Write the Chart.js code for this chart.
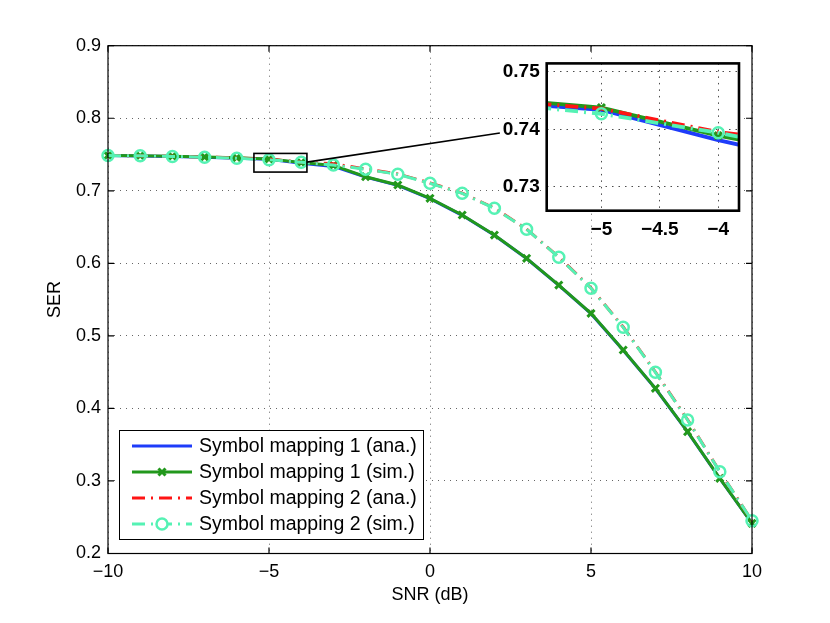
<!DOCTYPE html>
<html>
<head>
<meta charset="utf-8">
<script src="https://cdn.jsdelivr.net/npm/chart.js@4.4.0/dist/chart.umd.min.js"></script>
<style>
  html, body { margin: 0; padding: 0; background: #fff; }
  #wrap { position: relative; width: 830px; height: 623px; }
  #main { position: absolute; left: 0; top: 0; }
  #zoom { position: absolute; left: 490px; top: 45px; }
</style>
</head>
<body>
<div id="wrap">
  <canvas id="main" width="830" height="623"></canvas>
  <canvas id="zoom" width="260" height="205"></canvas>
</div>
<script>
// SNR points (dB)
const snr = [-10, -9, -8, -7, -6, -5, -4, -3, -2, -1, 0, 1, 2, 3, 4, 5, 6, 7, 8, 9, 10];

// SER values
const anaMap1 = [0.7486, 0.7481, 0.7473, 0.7463, 0.7449, 0.7434, 0.7381, 0.7336, 0.7190, 0.7075, 0.6892,
                 0.6662, 0.6386, 0.6066, 0.5697, 0.5306, 0.4802, 0.4274, 0.3676, 0.3034, 0.2414];
const simMap1 = [0.7487, 0.7483, 0.7476, 0.7467, 0.7455, 0.7438, 0.7389, 0.7350, 0.7194, 0.7080, 0.6896,
                 0.6666, 0.6390, 0.6069, 0.5700, 0.5310, 0.4805, 0.4277, 0.3679, 0.3036, 0.2416];
const anaMap2 = [0.7487, 0.7483, 0.7475, 0.7466, 0.7452, 0.7436, 0.7395, 0.7372, 0.7300, 0.7232, 0.7108,
                 0.6968, 0.6762, 0.6472, 0.6086, 0.5660, 0.5122, 0.4502, 0.3844, 0.3130, 0.2450];
const simMap2 = [0.7486, 0.7482, 0.7474, 0.7463, 0.7448, 0.7427, 0.7394, 0.7355, 0.7296, 0.7227, 0.7103,
                 0.6965, 0.6758, 0.6469, 0.6083, 0.5656, 0.5118, 0.4498, 0.3840, 0.3127, 0.2452];

const seriesNames = ['Symbol mapping 1 (ana.)', 'Symbol mapping 1 (sim.)',
                     'Symbol mapping 2 (ana.)', 'Symbol mapping 2 (sim.)'];

// tick labels
const xTicks = [-10, -5, 0, 5, 10];
const yTicks = [0.2, 0.3, 0.4, 0.5, 0.6, 0.7, 0.8, 0.9];
const zoomXTicks = [-5, -4.5, -4];
const zoomYTicks = [0.73, 0.74, 0.75];

// zoomed window
const zoomXRange = [-5.468, -3.822];
const zoomYRange = [0.7258, 0.7515];

Chart.defaults.font.family = "'Liberation Sans', Arial, Helvetica, sans-serif";
Chart.defaults.color = '#000';

const minus = v => String(v).replace('-', '\u2212');
const pts = arr => arr.map((y, i) => ({ x: snr[i], y: y }));

const dashDot = [13, 6, 2, 6];

function makeDatasets(lw, clip) {
    return [
        { label: seriesNames[0], data: pts(anaMap1), borderColor: '#1e3cfa', borderWidth: lw,
          pointRadius: 0, order: 4, clip: clip },
        { label: seriesNames[1], data: pts(simMap1), borderColor: '#22981c', borderWidth: lw,
          pointStyle: 'crossRot', pointRadius: 5, pointBorderWidth: 3, pointBorderColor: '#22981c',
          pointBackgroundColor: '#22981c', order: 3, clip: clip },
        { label: seriesNames[2], data: pts(anaMap2), borderColor: '#ff1414', borderWidth: lw,
          borderDash: dashDot, pointRadius: 0, order: 2, clip: clip },
        { label: seriesNames[3], data: pts(simMap2), borderColor: '#55f2b4', borderWidth: lw,
          borderDash: dashDot, pointStyle: 'circle', pointRadius: 5.5, pointBorderWidth: 2.5,
          pointBorderColor: '#55f2b4', pointBackgroundColor: 'rgba(0,0,0,0)', order: 1, clip: clip }
    ];
}

// box, inner ticks, zoom marker and legend for the main axes
const mainDeco = {
    id: 'mainDeco',
    afterDraw(chart) {
        const ctx = chart.ctx;
        const a = chart.chartArea;
        const xs = chart.scales.x, ys = chart.scales.y;
        ctx.save();
        ctx.strokeStyle = '#000';
        ctx.lineWidth = 1.2;
        ctx.setLineDash([]);
        ctx.strokeRect(a.left, a.top, a.right - a.left, a.bottom - a.top);
        ctx.beginPath();
        xTicks.forEach(v => {
            const p = xs.getPixelForValue(v);
            ctx.moveTo(p, a.bottom); ctx.lineTo(p, a.bottom - 6);
            ctx.moveTo(p, a.top); ctx.lineTo(p, a.top + 6);
        });
        yTicks.forEach(v => {
            const p = ys.getPixelForValue(v);
            ctx.moveTo(a.left, p); ctx.lineTo(a.left + 6, p);
            ctx.moveTo(a.right, p); ctx.lineTo(a.right - 6, p);
        });
        ctx.stroke();

        // zoom rectangle + connector
        const rx0 = xs.getPixelForValue(zoomXRange[0]), rx1 = xs.getPixelForValue(zoomXRange[1]);
        const ry0 = ys.getPixelForValue(zoomYRange[1]), ry1 = ys.getPixelForValue(zoomYRange[0]);
        ctx.lineWidth = 1.6;
        ctx.strokeRect(rx0, ry0, rx1 - rx0, ry1 - ry0);
        ctx.beginPath();
        ctx.moveTo(rx1, ys.getPixelForValue(0.7395));
        ctx.lineTo(xs.getPixelForValue(2.17), ys.getPixelForValue(0.7797));
        ctx.stroke();

        // legend
        const lx = 119.5, ly = 430.5, lw = 304, lh = 109;
        ctx.fillStyle = '#fff';
        ctx.fillRect(lx, ly, lw, lh);
        ctx.lineWidth = 1;
        ctx.strokeRect(lx, ly, lw, lh);
        ctx.font = "19.5px 'Liberation Sans', Arial, sans-serif";
        ctx.textBaseline = 'middle';
        ctx.textAlign = 'left';
        chart.data.datasets.forEach((ds, i) => {
            const y = 446 + i * 26;
            ctx.strokeStyle = ds.borderColor;
            ctx.lineWidth = 3;
            ctx.setLineDash(ds.borderDash || []);
            ctx.beginPath();
            ctx.moveTo(132, y); ctx.lineTo(192, y);
            ctx.stroke();
            ctx.setLineDash([]);
            if (ds.pointRadius > 0) {
                ctx.fillStyle = '#fff';
                ctx.strokeStyle = ds.pointBorderColor;
                ctx.lineWidth = ds.pointBorderWidth;
                if (ds.pointStyle === 'circle') {
                    ctx.beginPath(); ctx.arc(162, y, ds.pointRadius, 0, Math.PI * 2);
                    ctx.fill(); ctx.stroke();
                } else {
                    Chart.helpers.drawPoint(ctx, { pointStyle: ds.pointStyle, radius: ds.pointRadius,
                        borderWidth: ds.pointBorderWidth, rotation: 0 }, 162, y);
                }
            }
            ctx.fillStyle = '#000';
            ctx.fillText(ds.label, 199, y + 1);
        });
        ctx.restore();
    }
};

new Chart(document.getElementById('main'), {
    type: 'line',
    data: { datasets: makeDatasets(3, false) },
    options: {
        responsive: false,
        animation: false,
        devicePixelRatio: 1,
        layout: { padding: { left: 0, top: 45.7, right: 78, bottom: 0 } },
        plugins: { legend: { display: false }, tooltip: { enabled: false } },
        scales: {
            x: {
                type: 'linear', min: -10, max: 10,
                afterFit: s => { s.height = 69.5; },
                afterBuildTicks: s => { s.ticks = xTicks.map(v => ({ value: v })); },
                grid: { color: 'rgba(0,0,0,0.6)', lineWidth: 1, drawTicks: false },
                border: { display: false, dash: [1, 5] },
                ticks: { font: { size: 18 }, padding: 8, autoSkip: false, maxRotation: 0,
                         callback: v => minus(v) },
                title: { display: true, text: 'SNR (dB)', font: { size: 18 }, padding: { bottom: 17 } }
            },
            y: {
                min: 0.2, max: 0.9,
                afterFit: s => { s.width = 108; },
                afterBuildTicks: s => { s.ticks = yTicks.map(v => ({ value: v })); },
                grid: { color: 'rgba(0,0,0,0.6)', lineWidth: 1, drawTicks: false },
                border: { display: false, dash: [1, 5] },
                ticks: { font: { size: 18 }, padding: 7, autoSkip: false, callback: v => v.toFixed(1) },
                title: { display: true, text: 'SER', font: { size: 18 }, padding: { top: 44 } }
            }
        }
    },
    plugins: [mainDeco]
});

// white face and heavy frame of the inset
const zoomDeco = {
    id: 'zoomDeco',
    beforeDraw(chart) {
        const a = chart.chartArea, ctx = chart.ctx;
        ctx.save();
        ctx.fillStyle = '#fff';
        ctx.fillRect(a.left, a.top, a.right - a.left, a.bottom - a.top);
        ctx.restore();
    },
    afterDraw(chart) {
        const a = chart.chartArea, ctx = chart.ctx;
        ctx.save();
        ctx.strokeStyle = '#000';
        ctx.lineWidth = 2.6;
        ctx.setLineDash([]);
        ctx.strokeRect(a.left, a.top, a.right - a.left, a.bottom - a.top);
        ctx.restore();
    }
};

new Chart(document.getElementById('zoom'), {
    type: 'line',
    data: { datasets: makeDatasets(3.8, 0) },
    options: {
        responsive: false,
        animation: false,
        devicePixelRatio: 1,
        layout: { padding: { left: 0, top: 14, right: 11, bottom: 0 } },
        plugins: { legend: { display: false }, tooltip: { enabled: false } },
        scales: {
            x: {
                type: 'linear', min: zoomXRange[0], max: zoomXRange[1],
                afterFit: s => { s.height = 39.3; },
                afterBuildTicks: s => { s.ticks = zoomXTicks.map(v => ({ value: v })); },
                grid: { color: 'rgba(0,0,0,0.7)', lineWidth: 1, drawTicks: false },
                border: { display: false, dash: [1.5, 5] },
                ticks: { font: { size: 19, weight: 'bold' }, padding: 8, autoSkip: false, maxRotation: 0,
                         callback: v => minus(v) }
            },
            y: {
                min: zoomYRange[0], max: zoomYRange[1],
                afterFit: s => { s.width = 56.7; },
                afterBuildTicks: s => { s.ticks = zoomYTicks.map(v => ({ value: v })); },
                grid: { color: 'rgba(0,0,0,0.7)', lineWidth: 1, drawTicks: false },
                border: { display: false, dash: [1.5, 5] },
                ticks: { font: { size: 19, weight: 'bold' }, padding: 7, autoSkip: false,
                         callback: v => v.toFixed(2) }
            }
        }
    },
    plugins: [zoomDeco]
});
</script>
</body>
</html>
